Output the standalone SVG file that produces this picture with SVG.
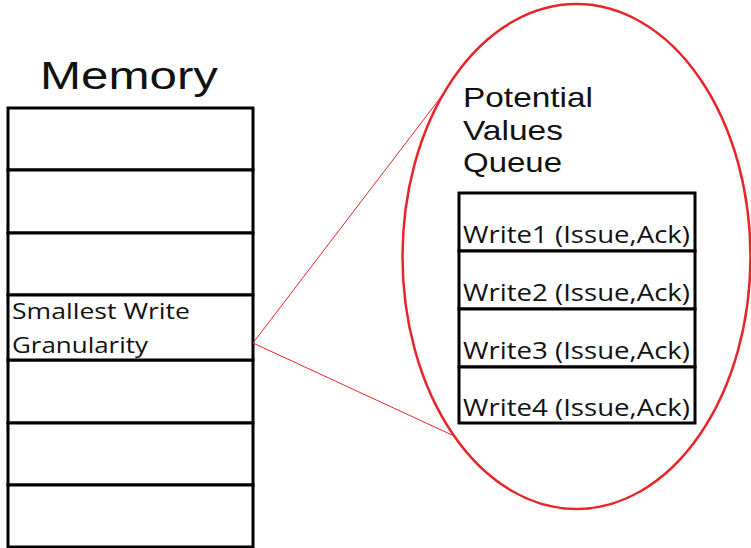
<svg xmlns="http://www.w3.org/2000/svg" width="751" height="548" viewBox="0 0 751 548">
  <style>
    .cell { fill: #ffffff; stroke: #000000; stroke-width: 3; }
    .head { font-family: "Liberation Sans", Arial, sans-serif; fill: #111111; }
    .body { font-family: "Open Sans", "Noto Sans", sans-serif; fill: #111111; }
    .zoom { fill: none; stroke: #e8262a; }
  </style>
  <rect width="751" height="548" fill="#ffffff"/>

  <!-- Memory column -->
  <g id="memory">
    <text class="head" x="40" y="89" font-size="38" textLength="178" lengthAdjust="spacingAndGlyphs">Memory</text>
    <rect class="cell" x="8" y="108" width="245" height="62"/>
    <rect class="cell" x="8" y="170" width="245" height="63"/>
    <rect class="cell" x="8" y="233" width="245" height="62"/>
    <rect class="cell" x="8" y="360" width="245" height="63"/>
    <rect class="cell" x="8" y="423" width="245" height="62"/>
    <rect class="cell" x="8" y="485" width="245" height="62"/>
  </g>
  <g id="granule">
    <rect class="cell" x="8" y="295" width="245" height="65"/>
    <text class="body" x="12" y="319" font-size="21" textLength="178" lengthAdjust="spacingAndGlyphs">Smallest Write</text>
    <text class="body" x="12" y="353" font-size="21" textLength="136" lengthAdjust="spacingAndGlyphs">Granularity</text>
  </g>

  <!-- magnification lines -->
  <g id="connectors">
    <line class="zoom" x1="253" y1="343" x2="444" y2="93" stroke-width="1"/>
    <line class="zoom" x1="253" y1="343" x2="452" y2="435" stroke-width="1"/>
  </g>
  <g id="bubble">
    <ellipse class="zoom" cx="576.5" cy="256.5" rx="174" ry="252.5" stroke-width="2.5"/>
    <text class="head" x="463" y="107" font-size="28" textLength="130" lengthAdjust="spacingAndGlyphs">Potential</text>
    <text class="head" x="463" y="140" font-size="28" textLength="100" lengthAdjust="spacingAndGlyphs">Values</text>
    <text class="head" x="463" y="172" font-size="28" textLength="99" lengthAdjust="spacingAndGlyphs">Queue</text>
  </g>

  <!-- potential values queue -->
  <g id="queue">
    <rect class="cell" x="459" y="193" width="236" height="58"/>
    <rect class="cell" x="459" y="251" width="236" height="58"/>
    <rect class="cell" x="459" y="309" width="236" height="58"/>
    <rect class="cell" x="459" y="367" width="236" height="56"/>
    <text class="body" x="463" y="243" font-size="24" textLength="227" lengthAdjust="spacingAndGlyphs">Write1 (Issue,Ack)</text>
    <text class="body" x="463" y="301" font-size="24" textLength="227" lengthAdjust="spacingAndGlyphs">Write2 (Issue,Ack)</text>
    <text class="body" x="463" y="359" font-size="24" textLength="227" lengthAdjust="spacingAndGlyphs">Write3 (Issue,Ack)</text>
    <text class="body" x="463" y="416" font-size="24" textLength="227" lengthAdjust="spacingAndGlyphs">Write4 (Issue,Ack)</text>
  </g>
</svg>
